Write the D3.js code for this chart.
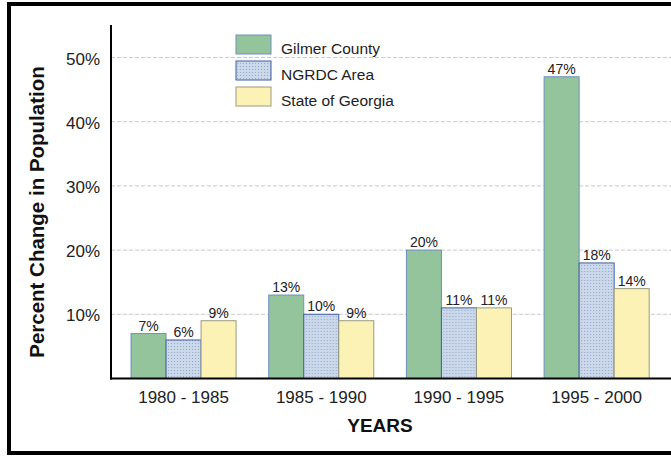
<!DOCTYPE html>
<html>
<head>
<meta charset="utf-8">
<script src="https://cdn.jsdelivr.net/npm/d3@7"></script>
<style>
  html, body { margin: 0; padding: 0; background: #fff; }
  svg { display: block; font-family: "Liberation Sans", Arial, sans-serif; }
</style>
</head>
<body>
<svg id="chart" width="671" height="456"></svg>
<script>
// periods on the x axis
var periods = ["1980 - 1985", "1985 - 1990", "1990 - 1995", "1995 - 2000"];
var seriesNames = ["Gilmer County", "NGRDC Area", "State of Georgia"];
// percent change per period
var gilmer = [7, 13, 20, 47];
var ngrdc = [6, 10, 11, 18];
var georgia = [9, 9, 11, 14];
var yTicks = [10, 20, 30, 40, 50];

var seriesValues = [gilmer, ngrdc, georgia];
var fills = ["#94c49b", "url(#dots)", "#fcf2b6"];
var strokes = ["#6f8fc0", "#3f5f9f", "#9a9a80"];

var svg = d3.select("#chart");

// dotted fill for the NGRDC bars
var pat = svg.append("defs").append("pattern")
    .attr("id", "dots")
    .attr("width", 3)
    .attr("height", 3)
    .attr("patternUnits", "userSpaceOnUse");
pat.append("rect").attr("width", 3).attr("height", 3).attr("fill", "#cbd8ea");
pat.append("rect").attr("x", 1).attr("y", 1).attr("width", 1).attr("height", 1).attr("fill", "#94a9cc");

// outer frame (right edge runs off the picture)
svg.append("rect")
    .attr("x", 9).attr("y", 4)
    .attr("width", 700).attr("height", 449)
    .attr("fill", "none")
    .attr("stroke", "#000")
    .attr("stroke-width", 4);

var x0 = 111, x1 = 671, yTop = 25, yBase = 378.5;

var x = d3.scaleBand()
    .domain(periods)
    .range([114.7, 665.5])
    .paddingInner(0.237)
    .paddingOuter(0.1185);

var xs = d3.scaleBand()
    .domain(seriesNames)
    .range([0, x.bandwidth()]);

var y = d3.scaleLinear()
    .domain([0, 50])
    .range([yBase, 57.5]);

// grid lines
svg.append("g")
    .selectAll("line")
    .data(yTicks)
    .join("line")
    .attr("x1", x0)
    .attr("x2", x1)
    .attr("y1", function (d) { return y(d); })
    .attr("y2", function (d) { return y(d); })
    .attr("stroke", "#c8c8c8")
    .attr("stroke-width", 1)
    .attr("stroke-dasharray", "4,2");

// y tick labels
svg.append("g")
    .selectAll("text")
    .data(yTicks)
    .join("text")
    .attr("x", 100)
    .attr("y", function (d) { return y(d) + 7; })
    .attr("text-anchor", "end")
    .attr("font-size", 17)
    .attr("fill", "#222")
    .text(function (d) { return d + "%"; });

// legend
var legend = svg.append("g").attr("transform", "translate(236,35)");
seriesNames.forEach(function (name, i) {
    legend.append("rect")
        .attr("x", 0).attr("y", i * 26)
        .attr("width", 35).attr("height", 19)
        .attr("fill", fills[i])
        .attr("stroke", strokes[i])
        .attr("stroke-width", 1);
    legend.append("text")
        .attr("x", 45).attr("y", i * 26 + 19)
        .attr("font-size", 15.5)
        .attr("fill", "#222")
        .text(name);
});

// bars
var groups = svg.append("g")
    .selectAll("g")
    .data(periods)
    .join("g")
    .attr("transform", function (d) { return "translate(" + x(d) + ",0)"; });

seriesNames.forEach(function (name, si) {
    groups.append("rect")
        .attr("x", xs(name))
        .attr("y", function (d, i) { return y(seriesValues[si][i]); })
        .attr("width", xs.bandwidth())
        .attr("height", function (d, i) { return yBase - y(seriesValues[si][i]); })
        .attr("fill", fills[si])
        .attr("stroke", strokes[si])
        .attr("stroke-width", 1);
    groups.append("text")
        .attr("x", xs(name) + xs.bandwidth() / 2)
        .attr("y", function (d, i) { return y(seriesValues[si][i]) - 3; })
        .attr("text-anchor", "middle")
        .attr("font-size", 14)
        .attr("fill", "#222")
        .text(function (d, i) { return seriesValues[si][i] + "%"; });
});

// axes lines
svg.append("line")
    .attr("x1", x0).attr("x2", x0)
    .attr("y1", yTop).attr("y2", yBase + 1)
    .attr("stroke", "#000").attr("stroke-width", 2);
svg.append("line")
    .attr("x1", x0 - 1).attr("x2", x1)
    .attr("y1", yBase).attr("y2", yBase)
    .attr("stroke", "#000").attr("stroke-width", 2);

// x labels
svg.append("g")
    .selectAll("text")
    .data(periods)
    .join("text")
    .attr("x", function (d) { return x(d) + x.bandwidth() / 2; })
    .attr("y", 402.5)
    .attr("text-anchor", "middle")
    .attr("font-size", 17)
    .attr("fill", "#222")
    .text(function (d) { return d; });

// axis titles
svg.append("text")
    .attr("x", 380).attr("y", 431.5)
    .attr("text-anchor", "middle")
    .attr("font-size", 19)
    .attr("font-weight", "bold")
    .attr("fill", "#111")
    .text("YEARS");

svg.append("text")
    .attr("transform", "translate(44,212) rotate(-90)")
    .attr("text-anchor", "middle")
    .attr("font-size", 20.5)
    .attr("font-weight", "bold")
    .attr("fill", "#111")
    .text("Percent Change in Population");
</script>
</body>
</html>
